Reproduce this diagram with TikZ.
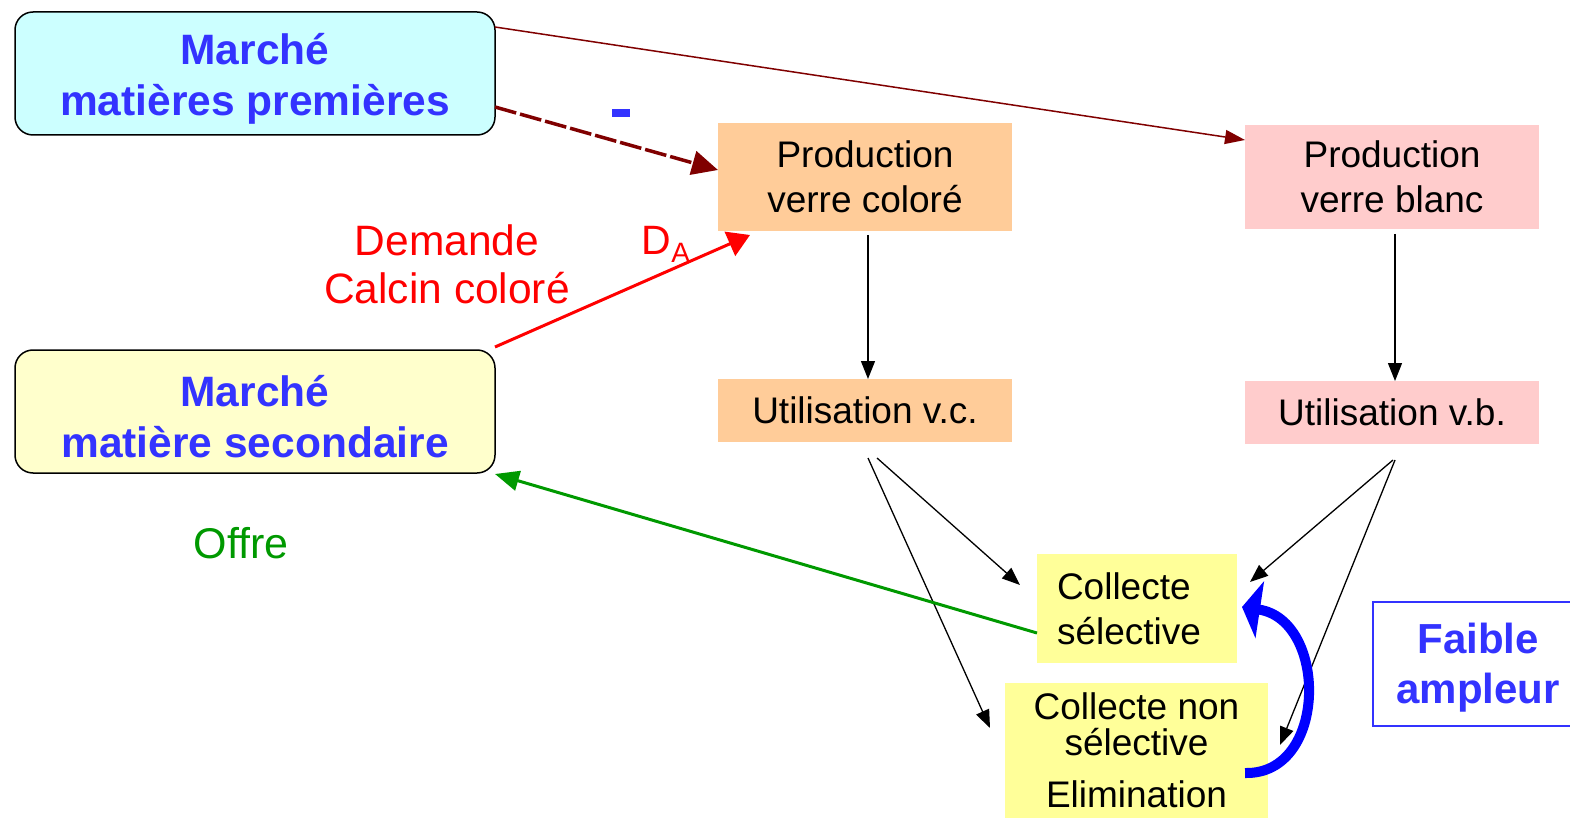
\documentclass[tikz,border=0pt]{standalone}
\usepackage{fontspec}
\setmainfont{Liberation Sans}
\usetikzlibrary{arrows.meta}
\definecolor{cyanbox}{HTML}{CCFFFF}
\definecolor{ylbox}{HTML}{FFFFCC}
\definecolor{orbox}{HTML}{FFCC99}
\definecolor{pkbox}{HTML}{FFCCCC}
\definecolor{yebox}{HTML}{FFFF99}
\definecolor{ttlblue}{HTML}{3333FF}
\definecolor{dred}{HTML}{800000}
\definecolor{gr}{HTML}{009900}
\tikzset{
  market/.style={draw=black, line width=1.5pt, rounded corners=18pt, minimum width=480pt, minimum height=123pt, inner sep=0pt, outer sep=0pt, anchor=north west},
  markettext/.style={inner sep=0pt, align=center, text=ttlblue, font=\fontsize{42.5}{51}\selectfont\bfseries},
  flat/.style={inner sep=0pt, outer sep=0pt, anchor=north west, align=center, font=\fontsize{37}{45}\selectfont},
  blk/.style={-{Triangle[length=18pt,width=14pt]}, line width=1.3pt, black},
}
\begin{document}
\begin{tikzpicture}[x=1pt,y=-1pt]
\useasboundingbox (0,0) rectangle (1570,818);
\node[market, fill=cyanbox] (mp) at (15,12) {};
\node[markettext] (mpt) at ([yshift=-5pt]mp.center) {Marché\\matières premières};
\node[market, fill=ylbox] (ms) at (15,350) {};
\node[markettext] (mst) at ([yshift=-5pt]ms.center) {Marché\\matière secondaire};
\node[flat, fill=orbox, minimum width=294pt, minimum height=108pt] (pvc) at (718,123) {Production\\verre coloré};
\node[flat, fill=pkbox, minimum width=294pt, minimum height=104pt] (pvb) at (1245,125) {Production\\verre blanc};
\node[flat, fill=orbox, minimum width=294pt, minimum height=63pt, font=\fontsize{37}{42}\selectfont] (uvc) at (718,379) {Utilisation v.c.};
\node[flat, fill=pkbox, minimum width=294pt, minimum height=63pt, font=\fontsize{37}{42}\selectfont] (uvb) at (1245,381) {Utilisation v.b.};
\node[flat, fill=yebox, minimum width=200pt, minimum height=109pt, font=\fontsize{37}{45}\selectfont, align=left, text width=200pt] (cs) at (1037,554) {\hspace*{20pt}Collecte\\\hspace*{20pt}sélective};
\node[flat, fill=yebox, minimum width=263pt, minimum height=135pt, font=\fontsize{37}{36}\selectfont] (cns) at (1005,683) {Collecte non\\sélective\\[16pt]Elimination};
\node[flat, draw=ttlblue, line width=1.5pt, fill=white, minimum width=210pt, minimum height=124pt] (fa) at (1373,602) {};
\node[inner sep=0pt, align=center, text=ttlblue, font=\fontsize{42}{50}\selectfont\bfseries] (fat) at ([yshift=-4pt]fa.center) {Faible\\ampleur};
% labels
\node[text=red, align=center, font=\fontsize{42.5}{48}\selectfont] (dem) at (447,264) {Demande\\Calcin coloré};
\node[text=red, font=\fontsize{41}{48}\selectfont] (da) at (666,244) {D\raisebox{-8pt}{\fontsize{28}{30}\selectfont A}};
\node[text=gr, font=\fontsize{43}{48}\selectfont] (of) at (241,543) {Offre};
\node[fill=ttlblue, minimum width=18pt, minimum height=8pt, inner sep=0pt] (minus) at (621,113) {};
% coordinates
\coordinate (mpA) at (495,27);
\coordinate (mpB) at (495,107);
\coordinate (pvbA) at (1245,140);
\coordinate (pvcA) at (718,170);
\coordinate (msA) at (495,347);
\coordinate (pvcB) at (750,235);
\coordinate (uvcS1) at (868,458);
\coordinate (uvcS2) at (877,458);
\coordinate (uvbS1) at (1393,460);
\coordinate (uvbS2) at (1395,460);
\coordinate (csA) at (1020,585);
\coordinate (csB) at (1250,582);
\coordinate (cnsA) at (990,728);
\coordinate (cnsB) at (1280,745);
\coordinate (csG) at (1037,633);
\coordinate (msG) at (495,474);
% arrows
\draw[dred, line width=1.5pt, -{Triangle[length=20pt,width=14pt]}] (mpA) -- (pvbA);
\draw[dred, line width=3.5pt, dash pattern=on 22pt off 4pt, -{Triangle[length=26pt,width=24pt]}] (mpB) -- (pvcA);
\draw[red, line width=3pt, -{Triangle[length=22pt,width=26pt]}] (msA) -- (pvcB);
\draw[blk] (pvc.south -| 868,0) ++(0,4) -- (uvc.north -| 868,0);
\draw[blk] (pvb.south -| 1395,0) ++(0,5) -- (uvb.north -| 1395,0);
\draw[blk] (uvcS2) -- (csA);
\draw[blk] (uvcS1) -- (cnsA);
\draw[blk] (uvbS1) -- (csB);
\draw[blk] (uvbS2) -- (cnsB);
\draw[gr, line width=3pt, -{Triangle[length=24pt,width=20pt]}] (csG) -- (msG);
\coordinate (bs) at (1245,773);
\coordinate (be) at (1242,607);
\draw[blue, line width=10pt, -{Triangle[length=18pt,width=57pt]}] (bs) .. controls (1328,775) and (1328,620) .. (be);
\end{tikzpicture}
\end{document}
